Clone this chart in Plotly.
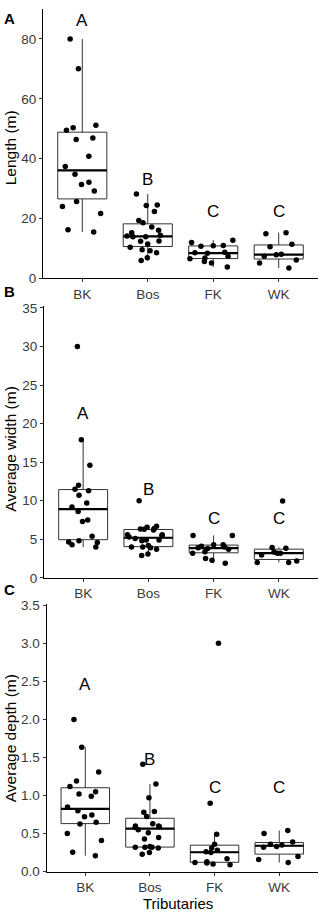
import numpy as np
import plotly.graph_objects as go

# ---------------- data ----------------
tributaries = ["BK", "Bos", "FK", "WK"]
sig_letters = ["A", "B", "C", "C"]

length_bk = [80, 70, 51.2, 50.3, 49.5, 46.9, 46.4, 40.8, 37.4, 34.8, 32.1, 31.4, 29.2, 25.7, 24.0, 21.7, 16.3, 15.5]
length_bos = [28.2, 24.5, 24.4, 22.4, 19.4, 18.6, 17.2, 16.1, 15.3, 14.4, 14.2, 13.9, 13.9, 12.5, 12.4, 11.5,
              10.4, 9.6, 9.3, 8.6, 6.9, 6.0]
length_fk = [12.8, 12.0, 11.0, 10.9, 10.8, 8.8, 8.6, 8.4, 7.4, 6.8, 6.6, 5.7, 5.2, 3.8]
length_wk = [15.3, 14.9, 11.4, 10.6, 8.1, 7.9, 7.4, 6.2, 5.2, 3.5]
length_letter_y = [86, 33, 22.5, 22.5]

width_bk = [30.0, 17.9, 14.6, 12.0, 11.5, 11.3, 10.7, 9.7, 9.2, 8.6, 7.5, 7.3, 5.4, 4.8, 4.65, 4.6, 4.3, 4.0]
width_bos = [10.0, 6.7, 6.55, 6.4, 6.35, 6.3, 6.2, 5.6, 5.6, 5.5, 5.3, 5.1, 4.9, 4.9, 4.8, 4.2, 4.0, 4.0,
             3.9, 3.7, 3.1, 2.9]
width_fk = [5.5, 5.5, 4.3, 4.3, 4.1, 4.0, 3.9, 3.8, 3.7, 3.4, 3.2, 2.5, 2.3, 1.9]
width_wk = [9.95, 3.95, 3.85, 3.35, 3.2, 3.2, 2.95, 2.2, 2.0, 2.0]
width_letter_y = [21.3, 11.5, 7.7, 7.7]

depth_bk = [2.0, 1.635, 1.31, 1.19, 1.12, 1.05, 1.02, 0.99, 0.85, 0.80, 0.745, 0.72, 0.65, 0.625, 0.5, 0.41,
            0.255, 0.21]
depth_bos = [1.41, 1.15, 0.97, 0.79, 0.78, 0.725, 0.63, 0.60, 0.60, 0.59, 0.58, 0.55, 0.51, 0.45, 0.43, 0.33,
             0.32, 0.32, 0.32, 0.31, 0.25, 0.23]
depth_fk = [3.0, 0.90, 0.49, 0.36, 0.31, 0.28, 0.26, 0.25, 0.17, 0.13, 0.12, 0.115, 0.10, 0.09]
depth_wk = [0.54, 0.50, 0.39, 0.36, 0.35, 0.33, 0.32, 0.20, 0.16, 0.12]
depth_letter_y = [2.46, 1.48, 1.10, 1.10]

y_titles = ["Length (m)", "Average width (m)", "Average depth (m)"]
panel_tags = ["A", "B", "C"]
x_title = "Tributaries"

# ---------------- layout constants ----------------
W, H = 319, 921
FONT = "Liberation Sans, Arial, Helvetica, sans-serif"

panels = [
    dict(groups=[length_bk, length_bos, length_fk, length_wk], letters_y=length_letter_y,
         yrange=[0, 90], dtick=20, fmt="d", x0=43, top=3, bottom=276.7, tag_y=13, title_y=144),
    dict(groups=[width_bk, width_bos, width_fk, width_wk], letters_y=width_letter_y,
         yrange=[0, 35.2], dtick=5, fmt="d", x0=44, top=305, bottom=580.7, tag_y=290, title_y=450),
    dict(groups=[depth_bk, depth_bos, depth_fk, depth_wk], letters_y=depth_letter_y,
         yrange=[0, 3.52], dtick=0.5, fmt=".1f", x0=46.5, top=607, bottom=879, tag_y=592.5, title_y=744),
]


def box_stats(vals):
    v = np.sort(np.asarray(vals, dtype=float))
    q1, med, q3 = np.percentile(v, [25, 50, 75])
    iqr = q3 - q1
    lo = v[v >= q1 - 1.5 * iqr].min()
    hi = v[v <= q3 + 1.5 * iqr].max()
    return q1, med, q3, lo, hi


fig = go.Figure()
annotations = []
layout_axes = {}

for i, p in enumerate(panels):
    n = "" if i == 0 else str(i + 1)
    xa, ya = "x" + n, "y" + n
    stats = [box_stats(g) for g in p["groups"]]
    q1 = [s[0] for s in stats]
    med = [s[1] for s in stats]
    q3 = [s[2] for s in stats]
    lo = [s[3] for s in stats]
    hi = [s[4] for s in stats]

    # box with whiskers
    fig.add_trace(go.Box(
        x=tributaries, q1=q1, median=med, q3=q3, lowerfence=lo, upperfence=hi,
        xaxis=xa, yaxis=ya, width=0.75, whiskerwidth=0, boxpoints=False,
        fillcolor="white", line=dict(color="#333333", width=1), showlegend=False,
        hoverinfo="skip",
    ))
    # thicker median line (degenerate box at the median)
    fig.add_trace(go.Box(
        x=tributaries, q1=med, median=med, q3=med, lowerfence=med, upperfence=med,
        xaxis=xa, yaxis=ya, width=0.75, whiskerwidth=0, boxpoints=False,
        fillcolor="rgba(0,0,0,0)", line=dict(color="black", width=2.2), showlegend=False,
        hoverinfo="skip",
    ))
    # jittered sample points
    xs, ys = [], []
    for cat, g in zip(tributaries, p["groups"]):
        xs += [cat] * len(g)
        ys += list(g)
    fig.add_trace(go.Box(
        x=xs, y=ys, xaxis=xa, yaxis=ya, width=0.75, boxpoints="all", jitter=1.0, pointpos=0,
        fillcolor="rgba(0,0,0,0)", line=dict(color="rgba(0,0,0,0)", width=0),
        marker=dict(color="black", size=5.5), showlegend=False, hoverinfo="skip",
    ))

    # significance letters
    for cat, letter, yy in zip(tributaries, sig_letters, p["letters_y"]):
        annotations.append(dict(x=cat, y=yy, xref=xa, yref=ya, text=letter, showarrow=False,
                                font=dict(family=FONT, size=17, color="black"),
                                xanchor="center", yanchor="middle"))

    # panel tag
    annotations.append(dict(x=9.5 / W, y=1 - p["tag_y"] / H, xref="paper", yref="paper",
                            text="<b>%s</b>" % panel_tags[i], showarrow=False,
                            font=dict(family=FONT, size=15, color="black"),
                            xanchor="center", yanchor="middle"))
    # y title
    annotations.append(dict(x=10.5 / W, y=1 - p["title_y"] / H, xref="paper", yref="paper",
                            text=y_titles[i], textangle=-90, showarrow=False,
                            font=dict(family=FONT, size=15.5, color="black"),
                            xanchor="center", yanchor="middle"))

    axis_common = dict(showline=True, linecolor="black", linewidth=1, showgrid=False, zeroline=False,
                       ticks="outside", ticklen=3, tickcolor="#333333", tickwidth=1,
                       tickfont=dict(family=FONT, size=13.5, color="#3a3a3a"))
    layout_axes["xaxis" + n] = dict(axis_common, type="category", categoryorder="array",
                                    categoryarray=tributaries, range=[-0.6, 3.6],
                                    domain=[p["x0"] / W, 318 / W], anchor=ya)
    layout_axes["yaxis" + n] = dict(axis_common, range=p["yrange"], dtick=p["dtick"], tick0=0,
                                    tickformat=p["fmt"],
                                    domain=[1 - p["bottom"] / H, 1 - p["top"] / H], anchor=xa)

annotations.append(dict(x=178 / W, y=0, xref="paper", yref="paper", text=x_title,
                        showarrow=False, font=dict(family=FONT, size=15, color="black"),
                        xanchor="center", yanchor="bottom", borderpad=0))

fig.update_layout(
    width=W, height=H, margin=dict(l=0, r=0, t=0, b=0),
    paper_bgcolor="white", plot_bgcolor="white", boxmode="overlay",
    annotations=annotations, font=dict(family=FONT), **layout_axes,
)

fig.write_html(
    "out.html",
    config={"displayModeBar": False, "staticPlot": True},
    post_script="document.body.style.margin='0';document.body.style.padding='0';"
                "document.documentElement.style.overflow='hidden';",
)
